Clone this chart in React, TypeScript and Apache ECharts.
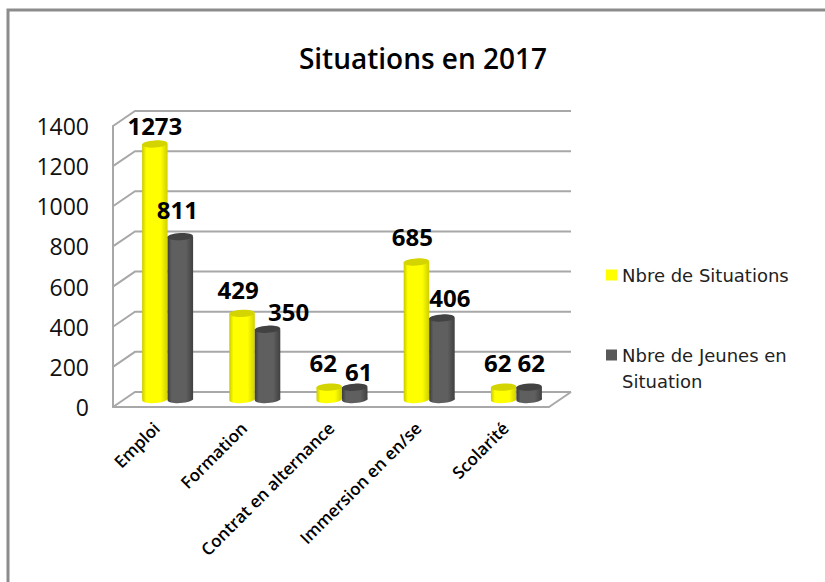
import React, { useEffect, useRef } from "react";
import * as echarts from "echarts";

const categories = ["Emploi", "Formation", "Contrat en alternance", "Immersion en en/se", "Scolarité"];
const situations = [1273, 429, 62, 685, 62];
const jeunes = [811, 350, 61, 406, 62];
const yTicks = [0, 200, 400, 600, 800, 1000, 1200, 1400];
const nameSituations = "Nbre de Situations";
const nameJeunes = "Nbre de Jeunes en Situation";

// Layout of the fake 3D depth
const DEPTH_X = 22;
const DEPTH_Y = -15;
const BAR_W = 25.5;
const RY = 3.6;
const WALL = "#a8a8a8";
// Hand-nudged label offsets (dx, dy from cylinder top centre)
const shiftSit = [[0, -18], [-4, -24], [-6, -25], [-4, -26], [-6, -25]];
const shiftJeu = [[-3, -27], [21, -18], [4, -16], [8, -21], [2, -25]];

function cylinder(col: [string, string, string, string], shifts: number[][], side: number) {
  return (params: any, api: any) => {
    const i = api.value(0);
    const v = api.value(1);
    const top = api.coord([i, v]);
    const base = api.coord([i, 0]);
    const cx = top[0] + DEPTH_X / 2 + side * BAR_W / 2;
    const yt = top[1] + DEPTH_Y / 2;
    const yb = base[1] + DEPTH_Y / 2;
    const rx = BAR_W / 2;
    const fill = new echarts.graphic.LinearGradient(0, 0, 1, 0, [
      { offset: 0, color: col[0] },
      { offset: 0.16, color: col[1] },
      { offset: 0.72, color: col[1] },
      { offset: 1, color: col[2] },
    ]);
    const s = shifts[i];
    return {
      type: "group",
      children: [
        { type: "ellipse", x: cx, y: yb, rotation: 0.05, shape: { cx: 0, cy: 0, rx, ry: RY }, style: { fill } },
        { type: "rect", shape: { x: cx - rx, y: yt, width: BAR_W, height: yb - yt }, style: { fill } },
        { type: "ellipse", x: cx, y: yt, rotation: 0.05, shape: { cx: 0, cy: 0, rx, ry: RY }, style: { fill: col[3] } },
        {
          type: "text",
          z2: 50,
          x: cx + s[0],
          y: yt + s[1],
          style: {
            text: String(v),
            fill: "#000",
            font: 'bold 24px "Open Sans"',
            align: "center",
            verticalAlign: "middle",
          },
        },
      ],
    };
  };
}

function walls(params: any, api: any) {
  const v = api.value(1);
  const cs = params.coordSys;
  const y = api.coord([0, v])[1];
  const xL = cs.x;
  const xR = cs.x + cs.width;
  const lineStyle = { stroke: WALL, lineWidth: 2, fill: "none" };
  const children: any[] = [
    {
      type: "polyline",
      shape: { points: [[xL, y], [xL + DEPTH_X, y + DEPTH_Y], [xR + DEPTH_X, y + DEPTH_Y]] },
      style: lineStyle,
    },
  ];
  if (v === 0) {
    children.push({
      type: "line",
      shape: { x1: xR, y1: y, x2: xR + DEPTH_X, y2: y + DEPTH_Y },
      style: lineStyle,
    });
  }
  return { type: "group", children };
}

const legendText = { fontFamily: "DejaVu Sans", fontSize: 18, lineHeight: 26, color: "#222" };

export default function App() {
  const ref = useRef<HTMLDivElement>(null);
  useEffect(() => {
    const chart = echarts.init(ref.current!, undefined, { renderer: "svg" });
    chart.setOption({
      animation: false,
      backgroundColor: "#fff",
      title: {
        text: "Situations en 2017",
        left: 418,
        top: 53,
        textAlign: "center",
        textVerticalAlign: "middle",
        textStyle: { fontFamily: "Open Sans", fontSize: 28, fontWeight: 600, color: "#000" },
      },
      legend: [
        {
          left: 606,
          top: 262,
          padding: 0,
          icon: "rect",
          itemWidth: 11,
          itemHeight: 11,
          data: [nameSituations],
          textStyle: legendText,
        },
        {
          left: 606,
          top: 316,
          padding: 0,
          icon: "rect",
          itemWidth: 11,
          itemHeight: 11,
          data: [nameJeunes],
          formatter: (n: string) => "\n" + n.replace("Jeunes en ", "Jeunes en\n"),
          textStyle: legendText,
        },
      ],
      graphic: [
        {
          type: "polyline",
          silent: true,
          shape: { points: [[8, 582], [8, 10], [825, 10]] },
          style: { stroke: "#8c8c8c", lineWidth: 3, fill: "none" },
        },
      ],
      grid: { left: 113, top: 126, width: 436, height: 281 },
      xAxis: {
        type: "category",
        data: categories,
        axisLine: { show: true, lineStyle: { color: WALL, width: 2 } },
        axisTick: { show: false },
        axisLabel: {
          interval: 0,
          rotate: 45,
          margin: 18,
          fontFamily: "Open Sans",
          fontSize: 17,
          fontWeight: 600,
          color: "#000",
        },
      },
      yAxis: {
        type: "value",
        min: yTicks[0],
        max: yTicks[yTicks.length - 1],
        interval: 200,
        axisLine: { show: true, lineStyle: { color: WALL, width: 2 } },
        axisTick: { show: false },
        splitLine: { show: false },
        axisLabel: {
          margin: 24,
          fontFamily: "Open Sans",
          fontSize: 23,
          color: "#111",
          padding: [0, 0, 2, 0],
          formatter: (v: number) => String(v),
        },
      },
      series: [
        {
          type: "custom",
          z: 1,
          silent: true,
          renderItem: walls,
          data: yTicks.map((t) => [0, t]),
          encode: { x: 0, y: 1 },
        },
        {
          type: "custom",
          name: nameSituations,
          z: 3,
          itemStyle: { color: "#ffff00" },
          renderItem: cylinder(["#c9c900", "#ffff00", "#cfcf00", "#d4d400"], shiftSit, -1),
          data: situations.map((v, i) => [i, v]),
          encode: { x: 0, y: 1 },
        },
        {
          type: "custom",
          name: nameJeunes,
          z: 4,
          itemStyle: { color: "#595959" },
          renderItem: cylinder(["#3c3c3c", "#5f5f5f", "#404040", "#424242"], shiftJeu, 1),
          data: jeunes.map((v, i) => [i, v]),
          encode: { x: 0, y: 1 },
        },
      ],
    });
    return () => chart.dispose();
  }, []);
  return <div ref={ref} style={{ position: "absolute", left: 0, top: 0, width: 825, height: 582 }} />;
}
